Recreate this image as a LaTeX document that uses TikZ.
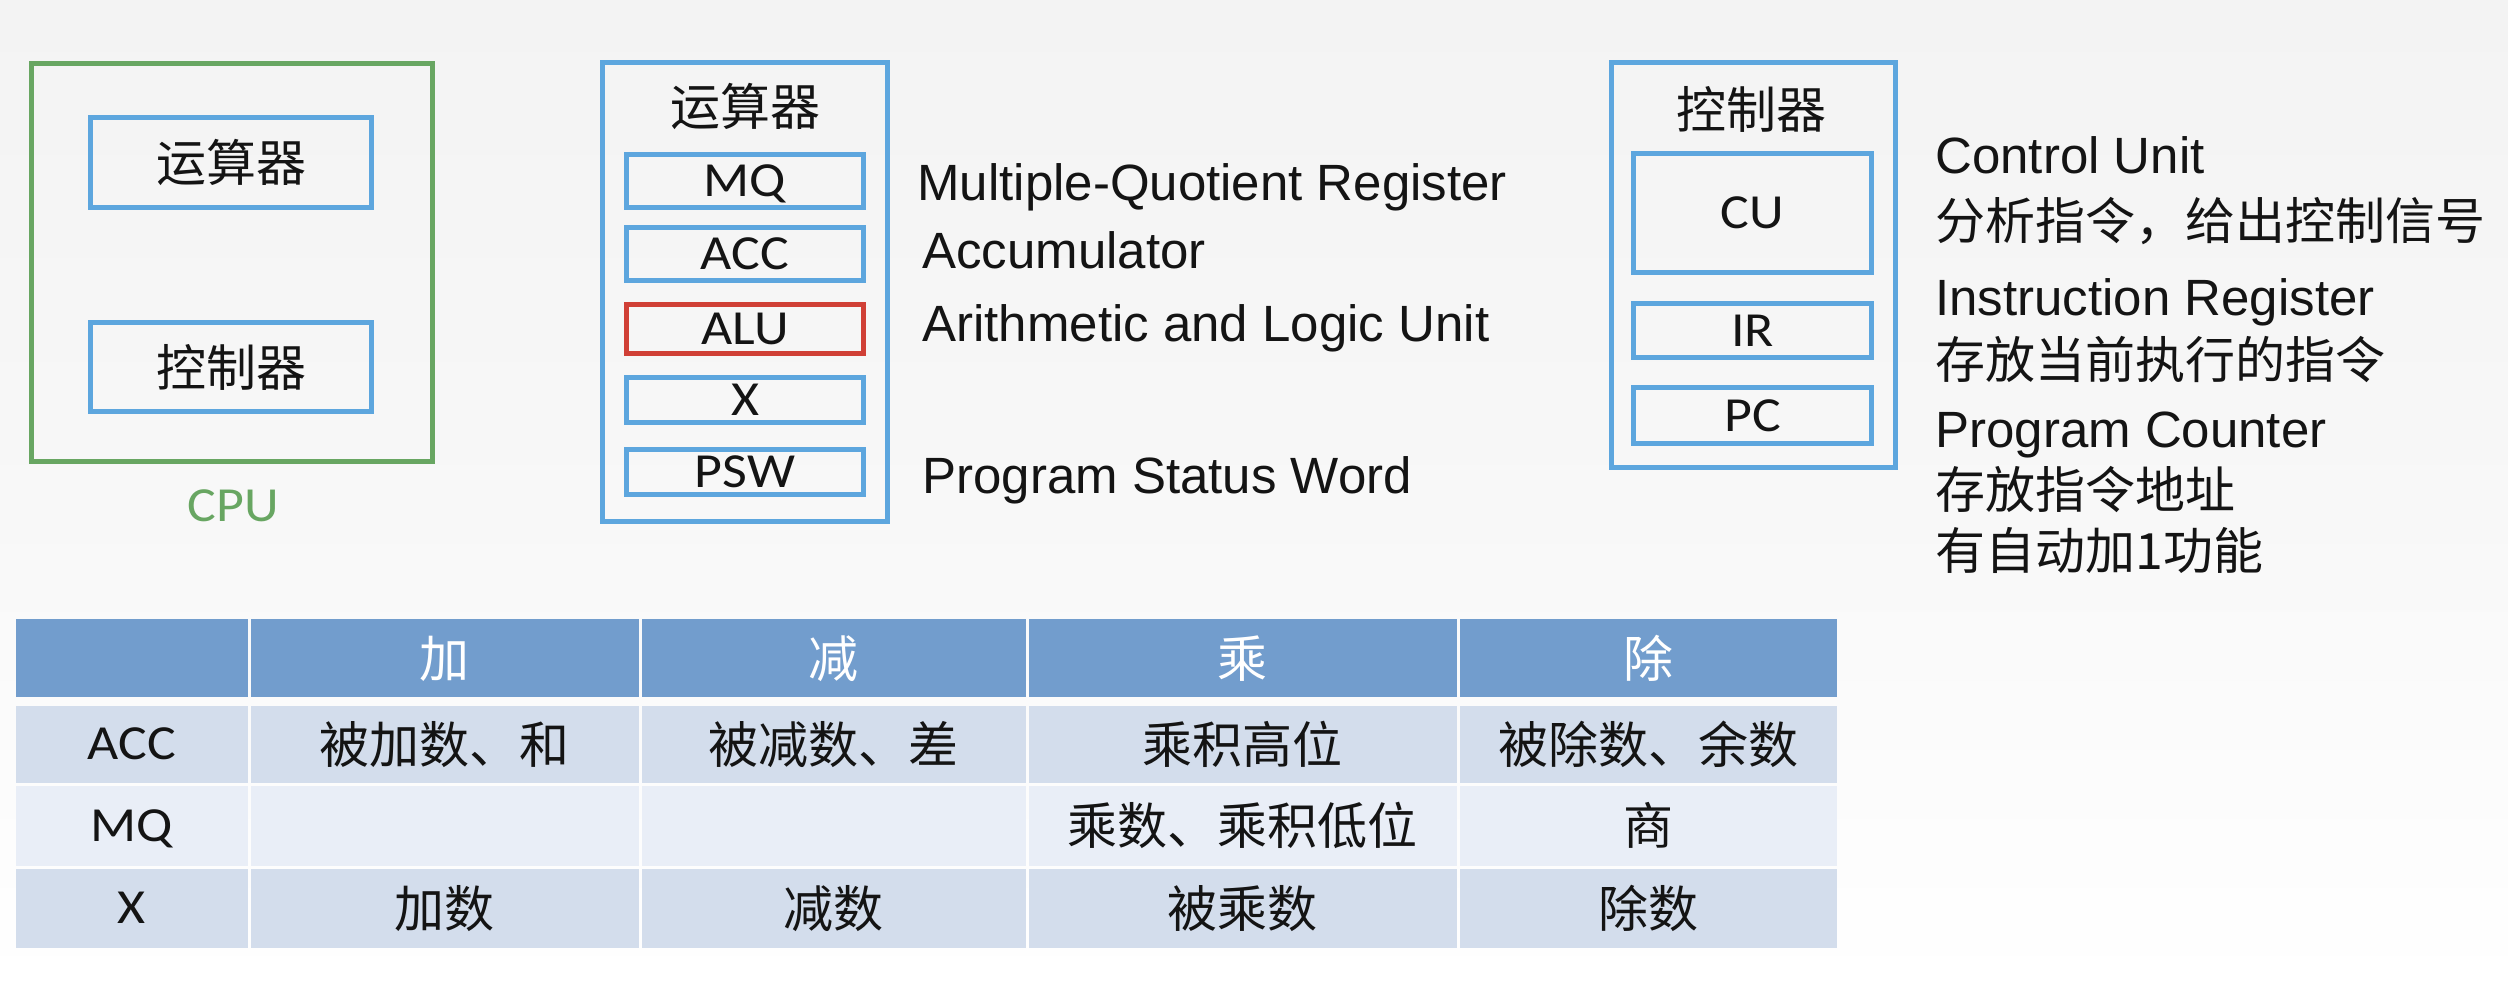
\documentclass[tikz,border=0pt]{standalone}
\usepackage{fontspec}
\setmainfont{Liberation Sans}
\newfontfamily\cjk{Noto Sans CJK SC}
\newfontfamily\calib[FakeStretch=1.1]{Carlito}

\definecolor{boxblue}{RGB}{93,166,222}
\definecolor{cpugreen}{RGB}{104,166,98}
\definecolor{alured}{RGB}{208,64,54}
\definecolor{ink}{RGB}{20,20,20}
\definecolor{hdrblue}{RGB}{114,157,205}
\definecolor{rowdark}{RGB}{211,221,236}
\definecolor{rowlight}{RGB}{233,238,247}
\definecolor{bgtop}{RGB}{243,243,243}

\begin{document}
\begin{tikzpicture}[x=0.5pt,y=-0.5pt]
\tikzset{
  framebox/.style={line width=2.5pt, inner sep=0pt, fill=none},
  bluebox/.style={framebox, draw=boxblue},
  greenbox/.style={framebox, draw=cpugreen},
  regbox/.style={bluebox, text=ink, font=\calib\fontsize{24.5pt}{28pt}\selectfont,
                 text height=15.5pt, text depth=0pt},
  unitbox/.style={bluebox, text=ink, font=\cjk\fontsize{25pt}{30pt}\selectfont,
                 text height=19pt, text depth=0pt},
  cjktxt/.style={font=\cjk\fontsize{25pt}{30pt}\selectfont, text=ink, inner sep=0pt},
  engtxt/.style={font=\fontsize{25.5pt}{30pt}\selectfont, text=ink, inner sep=0pt, anchor=base west},
  cpulabel/.style={font=\calib\fontsize{24.5pt}{28pt}\selectfont, text=cpugreen, inner sep=0pt},
  % table cells
  cell/.style={inner sep=0pt, text=ink},
  cjkcell/.style={cell, font=\cjk\fontsize{25pt}{30pt}\selectfont, text height=19pt, text depth=0pt},
  latcell/.style={cell, font=\calib\fontsize{24.5pt}{28pt}\selectfont, text height=15.5pt, text depth=0pt},
  colA/.style={minimum width=115.75pt},
  colB/.style={minimum width=194pt},
  colC/.style={minimum width=192pt},
  colD/.style={minimum width=214pt},
  colE/.style={minimum width=188.75pt},
  rowHead/.style={minimum height=39pt, fill=hdrblue, text=white},
  rowAcc/.style={minimum height=38.25pt, fill=rowdark},
  rowMq/.style={minimum height=40pt, fill=rowlight},
  rowX/.style={minimum height=39.75pt, fill=rowdark},
}
\useasboundingbox (0,0) rectangle (2508,990);
\shade[top color=bgtop, bottom color=white, middle color=bgtop!60!white] (0,0) rectangle (2508,990);

% ---------- CPU overview ----------
\node[greenbox, minimum width=200.5pt, minimum height=199pt] (cpu) at (232,262.5) {};
\node[unitbox, minimum width=140.5pt, minimum height=45pt] (cpuAlu) at (231,162.5) {运算器};
\node[unitbox, minimum width=140.5pt, minimum height=44.5pt] (cpuCu) at (231,367) {控制器};
\node[cpulabel, anchor=base] (cpuName) at (233,521) {CPU};

% ---------- arithmetic unit ----------
\node[bluebox, minimum width=142.5pt, minimum height=229.5pt] (alu) at (745,292) {};
\node[cjktxt, anchor=base] (aluTitle) at (745,126) {运算器};
\node[regbox, minimum width=118.5pt, minimum height=26.5pt] (mq) at (745,181) {MQ};
\node[regbox, minimum width=118.5pt, minimum height=26.5pt] (acc) at (745,254) {ACC};
\node[regbox, draw=alured, minimum width=118.5pt, minimum height=24.5pt] (alucore) at (745,329) {ALU};
\node[regbox, minimum width=118.5pt, minimum height=22.5pt] (xreg) at (745,400) {X};
\node[regbox, minimum width=118.5pt, minimum height=22.5pt] (psw) at (745,472) {PSW};

\node[engtxt] (mqName) at (917,200) {Multiple-Quotient Register};
\node[engtxt] (accName) at (922,268) {Accumulator};
\node[engtxt] (aluName) at (922,341) {Arithmetic and Logic Unit};
\node[engtxt] (pswName) at (922,493) {Program Status Word};

% ---------- control unit ----------
\node[bluebox, minimum width=142pt, minimum height=202.5pt] (ctl) at (1753.5,265) {};
\node[cjktxt, anchor=base] (ctlTitle) at (1751,129) {控制器};
\node[regbox, minimum width=119pt, minimum height=59.5pt] (cu) at (1752.5,213) {CU};
\node[regbox, minimum width=119pt, minimum height=27pt] (ir) at (1752.5,330.5) {IR};
\node[regbox, minimum width=119pt, minimum height=28pt] (pc) at (1752.5,415.5) {PC};

\node[engtxt] (cuName) at (1935,174) {Control Unit};
\node[cjktxt, anchor=base west] (cuNote) at (1935,240) {分析指令，给出控制信号};
\node[engtxt] (irName) at (1935,315) {Instruction Register};
\node[cjktxt, anchor=base west] (irNote) at (1935,378) {存放当前执行的指令};
\node[engtxt] (pcName) at (1935,447) {Program Counter};
\node[cjktxt, anchor=base west] (pcNote) at (1935,508) {存放指令地址};
\node[cjktxt, anchor=base west] (pcNoteB) at (1935,569) {有自动加1功能};

% ---------- register usage table ----------
% header row
\node[cell, colA, rowHead] (h0) at (131.75,658) {};
\node[cjkcell, colB, rowHead] (h1) at (444.5,658) {加};
\node[cjkcell, colC, rowHead] (h2) at (833.5,658) {减};
\node[cjkcell, colD, rowHead] (h3) at (1242.5,658) {乘};
\node[cjkcell, colE, rowHead] (h4) at (1648.25,658) {除};
% ACC row
\node[latcell, colA, rowAcc] (a0) at (131.75,744.25) {ACC};
\node[cjkcell, colB, rowAcc] (a1) at (444.5,744.25) {被加数、和};
\node[cjkcell, colC, rowAcc] (a2) at (833.5,744.25) {被减数、差};
\node[cjkcell, colD, rowAcc] (a3) at (1242.5,744.25) {乘积高位};
\node[cjkcell, colE, rowAcc] (a4) at (1648.25,744.25) {被除数、余数};
% MQ row
\node[latcell, colA, rowMq] (m0) at (131.75,825.5) {MQ};
\node[cjkcell, colB, rowMq] (m1) at (444.5,825.5) {};
\node[cjkcell, colC, rowMq] (m2) at (833.5,825.5) {};
\node[cjkcell, colD, rowMq] (m3) at (1242.5,825.5) {乘数、乘积低位};
\node[cjkcell, colE, rowMq] (m4) at (1648.25,825.5) {商};
% X row
\node[latcell, colA, rowX] (x0) at (131.75,908.25) {X};
\node[cjkcell, colB, rowX] (x1) at (444.5,908.25) {加数};
\node[cjkcell, colC, rowX] (x2) at (833.5,908.25) {减数};
\node[cjkcell, colD, rowX] (x3) at (1242.5,908.25) {被乘数};
\node[cjkcell, colE, rowX] (x4) at (1648.25,908.25) {除数};
\end{tikzpicture}
\end{document}
